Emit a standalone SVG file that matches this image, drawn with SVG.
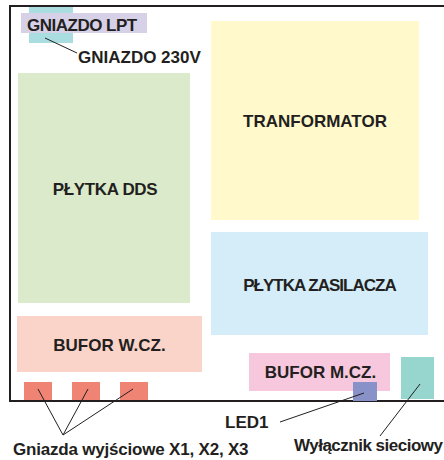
<svg xmlns="http://www.w3.org/2000/svg" width="444" height="460" viewBox="0 0 444 460">
<style>
text{font-family:"Liberation Sans",Arial,sans-serif;font-weight:bold;font-size:17px;fill:#231f20}
.c{text-anchor:middle}
.ld{stroke:#231f20;stroke-width:1;fill:none}
</style>
<rect width="444" height="460" fill="#fff"/>
<g id="frame"><path d="M444,6 H10 V401 H444" fill="none" stroke="#231f20" stroke-width="2"/></g>
<g id="gniazdo230"><rect x="29" y="7" width="44" height="36" fill="#a9dde0"/></g>
<g id="gniazdoLPT"><rect x="21" y="13" width="126" height="20" fill="#d7d1e8"/><text x="27" y="31" style="letter-spacing:-0.5px">GNIAZDO LPT</text></g>
<g id="plytkaDDS"><rect x="18" y="73" width="172" height="230" fill="#daeaca"/><text class="c" x="105" y="195" style="letter-spacing:-0.35px">PŁYTKA DDS</text></g>
<g id="transformator"><rect x="211" y="21" width="208" height="199" fill="#fff9cc"/><text class="c" x="315" y="127">TRANFORMATOR</text></g>
<g id="zasilacz"><rect x="211" y="232" width="217" height="103" fill="#d4edf9"/><text class="c" x="319.5" y="291" style="letter-spacing:-1px">PŁYTKA ZASILACZA</text></g>
<g id="buforW"><rect x="17" y="316" width="185" height="56" fill="#fad4c9"/><text class="c" x="109.5" y="351">BUFOR W.CZ.</text></g>
<g id="buforM"><rect x="249" y="353" width="141" height="38" fill="#f7c7dd"/><text class="c" x="320.5" y="378">BUFOR M.CZ.</text></g>
<g id="led1"><rect x="353" y="382" width="24" height="19" fill="#8891c8"/></g>
<g id="wylacznik"><rect x="401" y="357" width="33" height="42" fill="#96d6cf"/></g>
<g id="x1"><rect x="24" y="382" width="28" height="18" fill="#f08474"/></g>
<g id="x2"><rect x="72" y="382" width="28" height="18" fill="#f08474"/></g>
<g id="x3"><rect x="120" y="382" width="28" height="18" fill="#f08474"/></g>
<g id="connectors">
<line class="ld" x1="45" y1="38" x2="77" y2="53"/>
<line class="ld" x1="38" y1="389" x2="63" y2="435"/>
<line class="ld" x1="88" y1="389" x2="63" y2="435"/>
<line class="ld" x1="133" y1="389" x2="63" y2="435"/>
<line class="ld" x1="364" y1="393" x2="280" y2="422"/>
<line class="ld" x1="420" y1="384" x2="380" y2="436"/>
</g>
<g id="labels">
<text x="78" y="63">GNIAZDO 230V</text>
<text x="13" y="455" style="letter-spacing:-0.2px">Gniazda wyjściowe X1, X2, X3</text>
<text x="225" y="428">LED1</text>
<text x="294" y="451" style="letter-spacing:-0.5px">Wyłącznik sieciowy</text>
</g>
</svg>
